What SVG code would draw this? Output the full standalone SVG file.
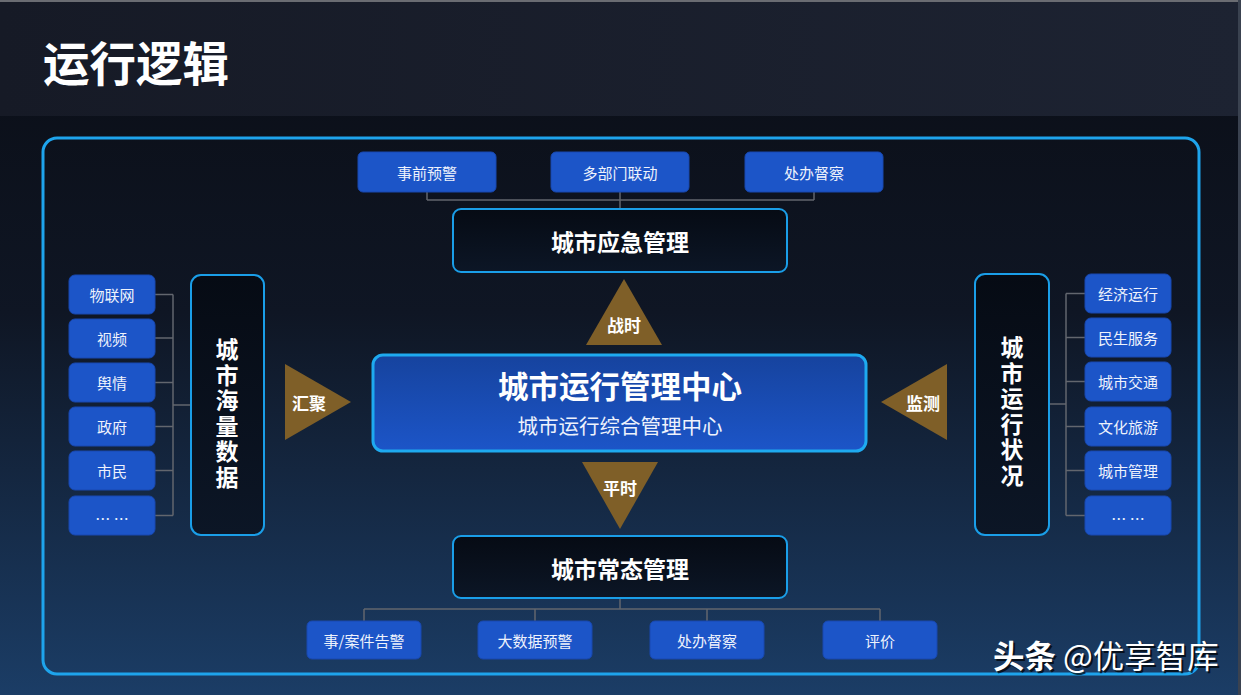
<svg xmlns="http://www.w3.org/2000/svg" width="1241" height="695" viewBox="0 0 1241 695">
<defs>
<linearGradient id="bgLow" x1="0" y1="0" x2="0" y2="1">
<stop offset="0" stop-color="#0a0d15"/>
<stop offset="0.45" stop-color="#0f1624"/>
<stop offset="1" stop-color="#1b3d66"/>
</linearGradient>
<linearGradient id="bgTop" x1="0" y1="0" x2="1" y2="0">
<stop offset="0" stop-color="#161a26"/>
<stop offset="1" stop-color="#1d2332"/>
</linearGradient>
<linearGradient id="darkBox" x1="0" y1="0" x2="0" y2="1">
<stop offset="0" stop-color="#060b14"/>
<stop offset="1" stop-color="#0c1626"/>
</linearGradient>
<linearGradient id="centerBox" x1="0" y1="0" x2="0" y2="1">
<stop offset="0" stop-color="#16439e"/>
<stop offset="1" stop-color="#1c55c8"/>
</linearGradient>
<style>
.cjk{font-family:"Noto Sans CJK SC","Noto Sans",sans-serif;}
.blue{fill:#1c55c8;stroke:#1848b0;stroke-width:1;}
.btxt{fill:#eef2fc;font-size:15px;text-anchor:middle;dominant-baseline:central;}
.dark{fill:url(#darkBox);stroke:#1a9ee8;stroke-width:2;}
.dtxt{fill:#ffffff;font-size:23px;font-weight:bold;text-anchor:middle;dominant-baseline:central;}
.vtxt{fill:#ffffff;font-size:23px;font-weight:bold;writing-mode:vertical-rl;letter-spacing:2.5px;}
.tri{fill:#7f5f28;}
.ttxt{fill:#ffffff;font-size:17px;font-weight:bold;text-anchor:middle;dominant-baseline:central;}
.conn{fill:none;stroke:#62666e;stroke-width:1.5;}
</style>
</defs>
<rect x="0" y="0" width="1241" height="695" fill="url(#bgLow)"/>
<rect x="0" y="0" width="1241" height="116" fill="url(#bgTop)"/>
<rect x="0" y="0" width="1241" height="2" fill="#6a6c72"/>
<rect x="1238" y="0" width="3" height="695" fill="#3a4250"/>
<text class="cjk" x="43" y="81" font-size="46.5" font-weight="bold" fill="#ffffff">运行逻辑</text>

<rect id="frame" x="43" y="138" width="1156" height="536" rx="14" fill="none" stroke="#1ea4ec" stroke-width="3"/>

<g id="connectors">
<path class="conn" d="M427 192V200M620 192V209M814 192V200M427 200H814"/>
<path class="conn" d="M620 598V609M364 609H880M364 609V621M535 609V621M707 609V621M880 609V621"/>
<path class="conn" d="M155 294.5H173M155 338H173M155 382.5H173M155 426.5H173M155 470.5H173M155 515.5H173M173 294.5V515.5M173 405H191"/>
<path class="conn" d="M1085 293.5H1066M1085 337.5H1066M1085 381.5H1066M1085 426.5H1066M1085 470.5H1066M1085 515.5H1066M1066 293.5V515.5M1049 404H1066"/>
</g>

<g id="top-boxes">
<g id="n-shiqian"><rect class="blue" x="358" y="152" width="138" height="40" rx="5"/><text class="cjk btxt" x="427" y="172">事前预警</text></g>
<g id="n-duobumen"><rect class="blue" x="551" y="152" width="138" height="40" rx="5"/><text class="cjk btxt" x="620" y="172">多部门联动</text></g>
<g id="n-chuban1"><rect class="blue" x="745" y="152" width="138" height="40" rx="5"/><text class="cjk btxt" x="814" y="172">处办督察</text></g>
</g>

<g id="n-yingji"><rect class="dark" x="453" y="209" width="334" height="63" rx="8"/><text class="cjk dtxt" x="620" y="241">城市应急管理</text></g>

<g id="n-zhanshi"><polygon class="tri" points="624,279 662,345 586,345"/><text class="cjk ttxt" x="624" y="324">战时</text></g>

<g id="n-center">
<rect x="373" y="355" width="493" height="96" rx="10" fill="url(#centerBox)" stroke="#1eaaf0" stroke-width="3"/>
<text class="cjk" x="620" y="385" font-size="30.5" font-weight="bold" fill="#ffffff" text-anchor="middle" dominant-baseline="central">城市运行管理中心</text>
<text class="cjk" x="620" y="425" font-size="20.5" fill="#eef2fc" text-anchor="middle" dominant-baseline="central">城市运行综合管理中心</text>
</g>

<g id="n-pingshi"><polygon class="tri" points="582,462 658,462 620,529"/><text class="cjk ttxt" x="620" y="487">平时</text></g>

<g id="n-changtai"><rect class="dark" x="453" y="536" width="334" height="62" rx="8"/><text class="cjk dtxt" x="620" y="568">城市常态管理</text></g>

<g id="bottom-boxes">
<g id="n-anjian"><rect class="blue" x="307" y="621" width="114" height="38" rx="5"/><text class="cjk btxt" x="364" y="640">事/案件告警</text></g>
<g id="n-dashuju"><rect class="blue" x="478" y="621" width="114" height="38" rx="5"/><text class="cjk btxt" x="535" y="640">大数据预警</text></g>
<g id="n-chuban2"><rect class="blue" x="650" y="621" width="114" height="38" rx="5"/><text class="cjk btxt" x="707" y="640">处办督察</text></g>
<g id="n-pingjia"><rect class="blue" x="823" y="621" width="114" height="38" rx="5"/><text class="cjk btxt" x="880" y="640">评价</text></g>
</g>

<g id="left-boxes">
<g id="n-wulian"><rect class="blue" x="69" y="275" width="86" height="39" rx="6"/><text class="cjk btxt" x="112" y="294.5">物联网</text></g>
<g id="n-shipin"><rect class="blue" x="69" y="319" width="86" height="39" rx="6"/><text class="cjk btxt" x="112" y="338.5">视频</text></g>
<g id="n-yuqing"><rect class="blue" x="69" y="363" width="86" height="39" rx="6"/><text class="cjk btxt" x="112" y="382.5">舆情</text></g>
<g id="n-zhengfu"><rect class="blue" x="69" y="407" width="86" height="39" rx="6"/><text class="cjk btxt" x="112" y="426.5">政府</text></g>
<g id="n-shimin"><rect class="blue" x="69" y="451" width="86" height="39" rx="6"/><text class="cjk btxt" x="112" y="470.5">市民</text></g>
<g id="n-more-left"><rect class="blue" x="69" y="496" width="86" height="39" rx="6"/><text class="cjk btxt" x="112" y="518">… …</text></g>
</g>

<g id="n-haishuju">
<rect class="dark" x="191" y="275" width="73" height="260" rx="10"/>
<text class="cjk vtxt" x="227" y="338">城市海量数据</text>
</g>

<g id="n-huiju"><polygon class="tri" points="285,364 351,402 285,440"/><text class="cjk ttxt" x="309" y="402">汇聚</text></g>

<g id="n-jiance"><polygon class="tri" points="947,364 881,402 947,440"/><text class="cjk ttxt" x="923" y="402">监测</text></g>

<g id="n-zhuangkuang">
<rect class="dark" x="975" y="274" width="74" height="261" rx="10"/>
<text class="cjk vtxt" x="1012" y="336">城市运行状况</text>
</g>

<g id="right-boxes">
<g id="n-jingji"><rect class="blue" x="1085" y="274" width="86" height="39" rx="6"/><text class="cjk btxt" x="1128" y="293.5">经济运行</text></g>
<g id="n-minsheng"><rect class="blue" x="1085" y="318" width="86" height="39" rx="6"/><text class="cjk btxt" x="1128" y="337.5">民生服务</text></g>
<g id="n-jiaotong"><rect class="blue" x="1085" y="362" width="86" height="39" rx="6"/><text class="cjk btxt" x="1128" y="381.5">城市交通</text></g>
<g id="n-wenhua"><rect class="blue" x="1085" y="407" width="86" height="39" rx="6"/><text class="cjk btxt" x="1128" y="426.5">文化旅游</text></g>
<g id="n-guanli"><rect class="blue" x="1085" y="451" width="86" height="39" rx="6"/><text class="cjk btxt" x="1128" y="470.5">城市管理</text></g>
<g id="n-more-right"><rect class="blue" x="1085" y="496" width="86" height="39" rx="6"/><text class="cjk btxt" x="1128" y="518">… …</text></g>
</g>

<g id="watermark">
<text class="cjk" x="995" y="670" font-size="31.5" fill="#000000" opacity="0.7"><tspan font-weight="bold">头条</tspan> @优享智库</text>
<text class="cjk" x="993" y="668" font-size="31.5" fill="#ffffff"><tspan font-weight="bold">头条</tspan> @优享智库</text>
</g>
</svg>
